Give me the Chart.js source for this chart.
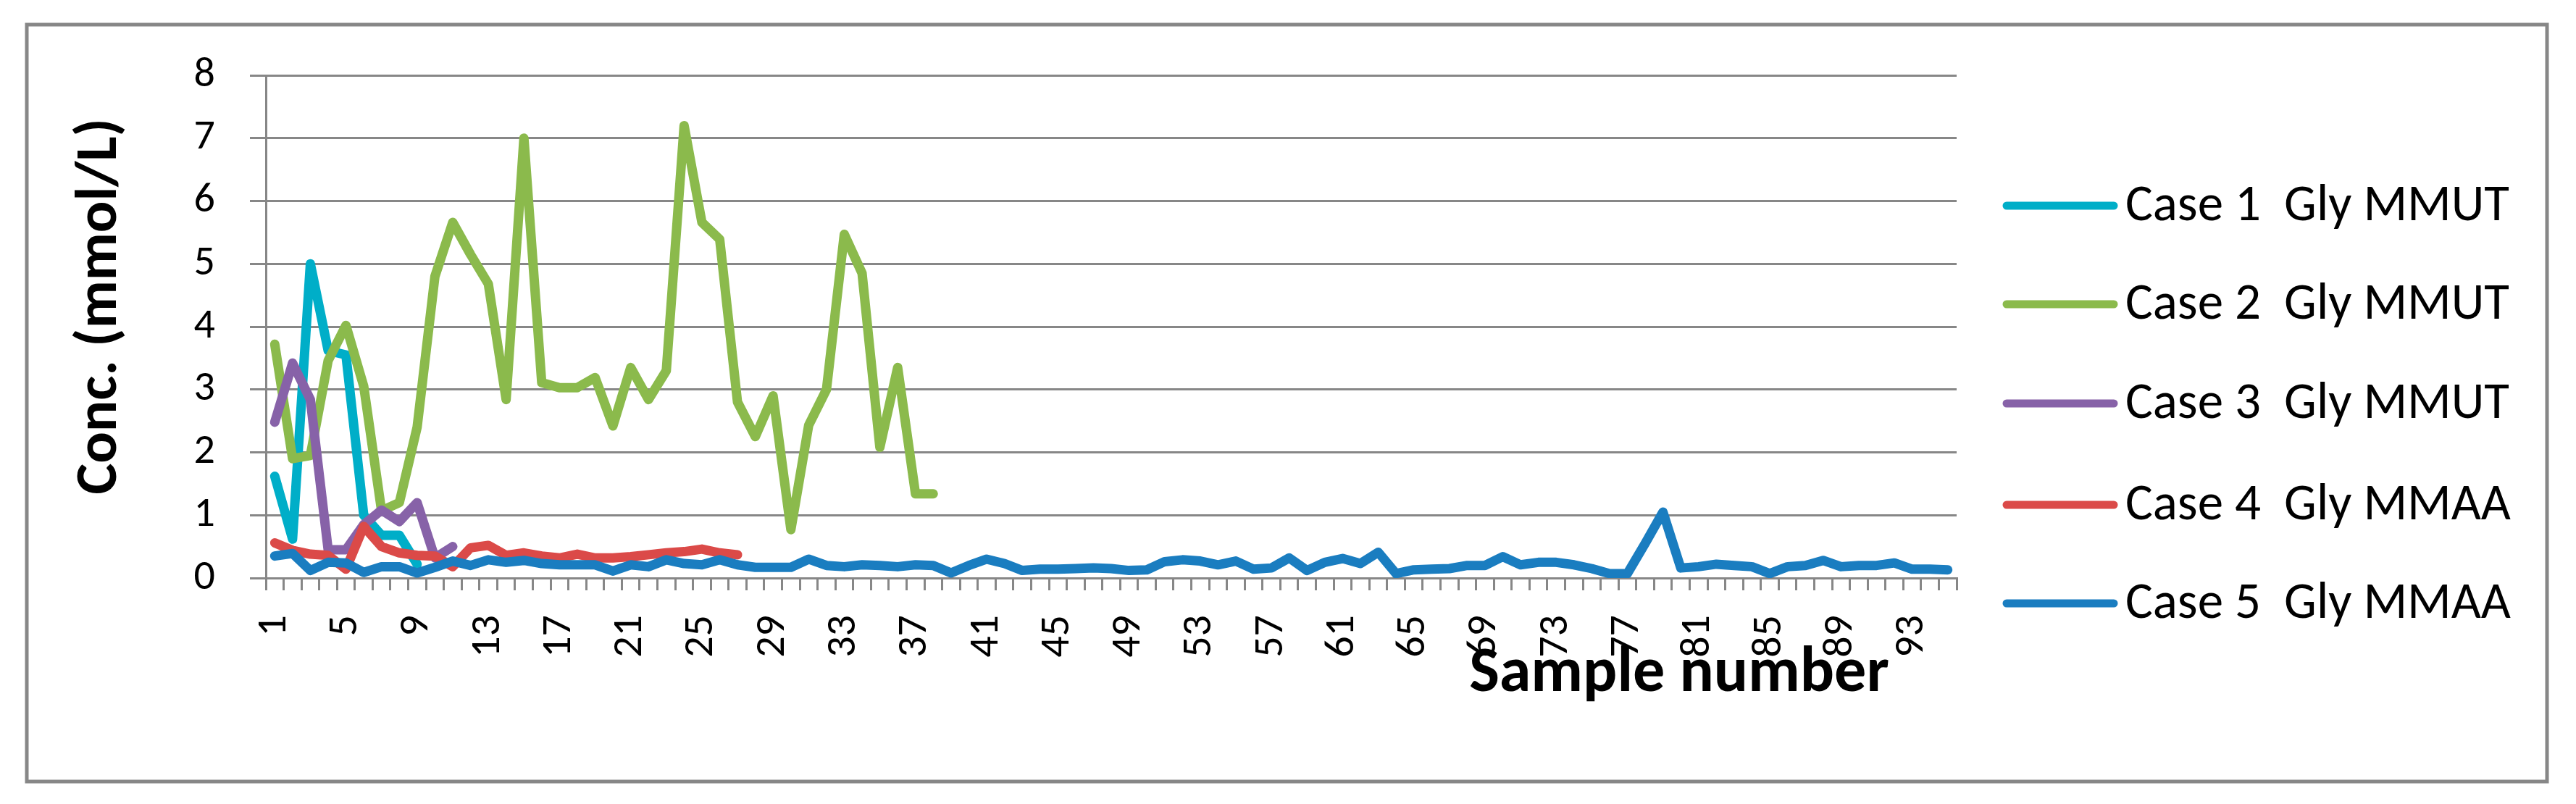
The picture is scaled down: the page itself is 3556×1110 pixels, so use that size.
<!DOCTYPE html>
<html>
<head>
<meta charset="utf-8">
<script src="https://cdn.jsdelivr.net/npm/chart.js@4.4.1/dist/chart.umd.min.js"></script>
<style>
  html, body { margin: 0; padding: 0; background: #ffffff; }
  #wrap { width: 3556px; height: 1110px; }
</style>
</head>
<body>
<div id="wrap"><canvas id="c" width="3556" height="1110"></canvas></div>
<script>
// ---- data ----
const sampleNumbers = Array.from({ length: 95 }, (_, i) => String(i + 1));
const yTicks = [0, 1, 2, 3, 4, 5, 6, 7, 8];
const seriesNames = ['Case 1  Gly MMUT', 'Case 2  Gly MMUT', 'Case 3  Gly MMUT', 'Case 4  Gly MMAA', 'Case 5  Gly MMAA'];
const case1 = [1.62, 0.62, 5.0, 3.62, 3.55, 1.0, 0.68, 0.68, 0.22];
const case2 = [3.72, 1.9, 1.95, 3.46, 4.02, 3.05, 1.07, 1.2, 2.4, 4.8, 5.66, 5.15, 4.68, 2.84, 7.0, 3.11, 3.03, 3.03, 3.19, 2.42,
               3.35, 2.84, 3.3, 7.2, 5.66, 5.39, 2.8, 2.25, 2.9, 0.77, 2.43, 3.0, 5.47, 4.85, 2.08, 3.35, 1.34, 1.34];
const case3 = [2.48, 3.42, 2.84, 0.45, 0.45, 0.85, 1.08, 0.9, 1.2, 0.32, 0.5];
const case4 = [0.56, 0.44, 0.38, 0.36, 0.14, 0.82, 0.5, 0.4, 0.36, 0.35, 0.18, 0.48, 0.52, 0.36, 0.4, 0.35, 0.32, 0.38, 0.32, 0.32,
               0.34, 0.37, 0.4, 0.42, 0.46, 0.4, 0.37];
const case5 = [0.35, 0.39, 0.12, 0.25, 0.24, 0.09, 0.18, 0.18, 0.08, 0.17, 0.27, 0.2, 0.29, 0.25, 0.28, 0.23, 0.21, 0.21, 0.21, 0.11,
               0.21, 0.18, 0.29, 0.23, 0.21, 0.29, 0.21, 0.17, 0.17, 0.17, 0.3, 0.2, 0.18, 0.21, 0.2, 0.18, 0.21, 0.2, 0.08, 0.2,
               0.3, 0.23, 0.12, 0.14, 0.14, 0.15, 0.16, 0.15, 0.12, 0.13, 0.26, 0.29, 0.27, 0.21, 0.27, 0.14, 0.16, 0.32, 0.12, 0.25,
               0.31, 0.23, 0.41, 0.07, 0.13, 0.14, 0.15, 0.2, 0.2, 0.34, 0.21, 0.25, 0.25, 0.21, 0.15, 0.07, 0.07, 0.55, 1.05, 0.16,
               0.18, 0.22, 0.2, 0.18, 0.07, 0.18, 0.2, 0.28, 0.18, 0.2, 0.2, 0.24, 0.14, 0.14, 0.13];
const seriesColors = ['#00AEC8', '#8BBA4C', '#8762A8', '#DB4A48', '#1A7DC0'];
const xTitle = 'Sample number';
const yTitle = 'Conc. (mmol/L)';

// ---- styling ----
const FONT = 'Carlito, Lato, "Liberation Sans", sans-serif';
const GRID = '#878787';

const allSeries = [case1, case2, case3, case4, case5];
const datasets = allSeries.map((d, i) => ({
  label: seriesNames[i],
  data: d,
  borderColor: seriesColors[i],
  backgroundColor: seriesColors[i],
  borderWidth: 13,
  pointRadius: 0,
  pointHoverRadius: 0,
  tension: 0,
  fill: false,
  borderJoinStyle: 'round',
  borderCapStyle: 'round',
  spanGaps: false
}));
datasets.forEach((d, i) => { d.order = 5 - i; });

function fitFont(ctx, text, weight, targetWidth) {
  const size = 60;
  ctx.font = weight + ' ' + size + 'px ' + FONT;
  const w = ctx.measureText(text).width;
  return size * targetWidth / w;
}

const decorPlugin = {
  id: 'decor',
  beforeDraw(chart) {
    const ctx = chart.ctx;
    ctx.save();
    ctx.fillStyle = '#ffffff';
    ctx.fillRect(0, 0, chart.width, chart.height);
    ctx.strokeStyle = GRID;
    ctx.lineWidth = 5;
    ctx.strokeRect(37, 34, 3516 - 37, 1079 - 34);
    ctx.restore();
  },
  afterDraw(chart) {
    const ctx = chart.ctx;
    ctx.save();
    ctx.fillStyle = '#000000';
    let fs = fitFont(ctx, yTitle, 'bold', 520);
    ctx.font = 'bold ' + fs.toFixed(1) + 'px ' + FONT;
    ctx.translate(140, 423);
    ctx.rotate(-Math.PI / 2);
    ctx.textAlign = 'center';
    ctx.textBaseline = 'middle';
    ctx.fillText(yTitle, 0, 0);
    ctx.setTransform(1, 0, 0, 1, 0, 0);
    fs = fitFont(ctx, xTitle, 'bold', 580);
    ctx.font = 'bold ' + fs.toFixed(1) + 'px ' + FONT;
    ctx.textAlign = 'center';
    ctx.textBaseline = 'middle';
    ctx.fillText(xTitle, 2318, 932);

    const rows = [284, 420, 557, 697, 833];
    const lfs = fitFont(ctx, seriesNames[0], 'normal', 530);
    chart.data.datasets.forEach((ds, i) => {
      const y = rows[i];
      ctx.strokeStyle = ds.borderColor;
      ctx.lineWidth = 11;
      ctx.lineCap = 'round';
      ctx.beginPath();
      ctx.moveTo(2770, y);
      ctx.lineTo(2918, y);
      ctx.stroke();
      ctx.fillStyle = '#000000';
      ctx.font = 'normal ' + lfs.toFixed(1) + 'px ' + FONT;
      ctx.textAlign = 'left';
      ctx.textBaseline = 'middle';
      ctx.fillText(ds.label, 2934, y + 2);
    });
    ctx.restore();
  }
};

new Chart(document.getElementById('c'), {
  type: 'line',
  data: { labels: sampleNumbers, datasets },
  options: {
    responsive: false,
    animation: false,
    devicePixelRatio: 1,
    layout: { padding: { top: 104, right: 855, bottom: 0, left: 0 } },
    plugins: { legend: { display: false }, tooltip: { enabled: false }, title: { display: false } },
    scales: {
      x: {
        type: 'category',
        offset: true,
        afterFit(s) { s.height = 312; },
        grid: { offset: true, drawOnChartArea: false, drawTicks: true, tickLength: 17, color: GRID, lineWidth: 3 },
        border: { display: true, color: GRID, width: 3 },
        ticks: {
          autoSkip: false,
          maxRotation: 90,
          minRotation: 90,
          padding: 34,
          color: '#000000',
          font: { family: FONT, size: 58 },
          callback(v, i) { return i % 4 === 0 ? sampleNumbers[i] : ''; }
        }
      },
      y: {
        min: 0,
        max: 8,
        afterFit(s) { s.width = 367; },
        afterBuildTicks(s) { s.ticks = yTicks.map(v => ({ value: v })); },
        grid: { color: GRID, lineWidth: 3, drawTicks: true, tickLength: 22 },
        border: { display: true, color: GRID, width: 3 },
        ticks: {
          padding: 48,
          color: '#000000',
          font: { family: FONT, size: 58 }
        }
      }
    }
  },
  plugins: [decorPlugin]
});
</script>
</body>
</html>
